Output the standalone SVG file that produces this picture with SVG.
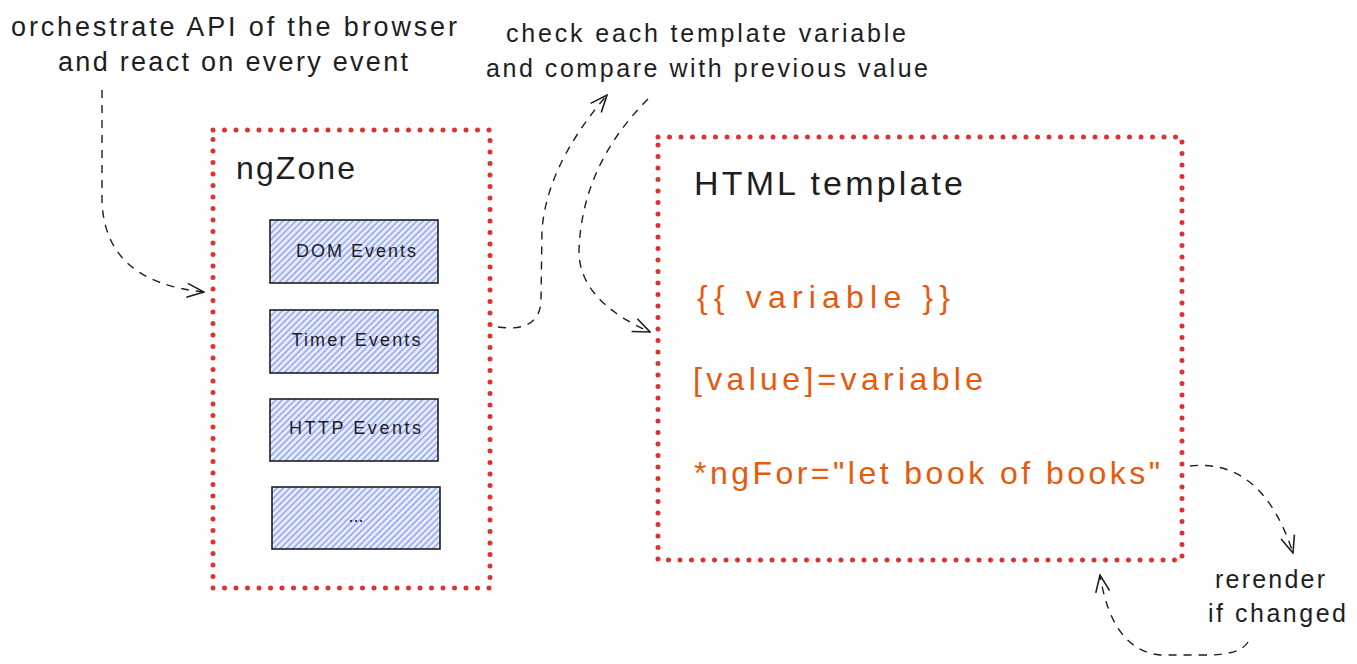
<svg xmlns="http://www.w3.org/2000/svg" width="1357" height="664" viewBox="0 0 1357 664">
<style>
.t{font-family:"Liberation Sans","DejaVu Sans",sans-serif;fill:#1e1e1e}
.o{fill:#e8590c}
.zone{fill:none;stroke:#e03131;stroke-width:5;stroke-linecap:round;stroke-dasharray:0 11.5}
.ev{fill:url(#hatch);stroke:#1e1e1e;stroke-width:1.6}
.c{fill:none;stroke:#1e1e1e;stroke-width:1.4;stroke-dasharray:8 7;marker-end:url(#arr)}
</style>
<defs>
<pattern id="hatch" width="4.5" height="4.5" patternUnits="userSpaceOnUse" patternTransform="rotate(45)">
<rect width="4.5" height="4.5" fill="#e9edfd"/>
<line x1="1" y1="0" x2="1" y2="4.5" stroke="#7f96f2" stroke-width="1.3"/>
</pattern>
<marker id="arr" viewBox="0 0 20 20" refX="19" refY="10" markerWidth="20" markerHeight="20" markerUnits="userSpaceOnUse" orient="auto">
<path d="M2,3 L19,10 L2,17" fill="none" stroke="#1e1e1e" stroke-width="1.6"/>
</marker>
</defs>

<g id="note-browser">
<text class="t" x="234" y="36" font-size="27" text-anchor="middle" textLength="446">orchestrate API of the browser</text>
<text class="t" x="233" y="71" font-size="27" text-anchor="middle" textLength="350">and react on every event</text>
</g>
<g id="note-check">
<text class="t" x="706" y="42" font-size="25" text-anchor="middle" textLength="400">check each template variable</text>
<text class="t" x="707" y="77" font-size="25" text-anchor="middle" textLength="442">and compare with previous value</text>
</g>
<g id="note-rerender">
<text class="t" x="1270" y="588" font-size="25" text-anchor="middle" textLength="110">rerender</text>
<text class="t" x="1277" y="622" font-size="25" text-anchor="middle" textLength="138">if changed</text>
</g>

<g id="ngZone">
<rect class="zone" x="213" y="130" width="277" height="458"/>
<text class="t" x="236" y="179" font-size="32" textLength="119">ngZone</text>
</g>
<g id="dom-events">
<rect class="ev" x="270" y="220" width="168" height="63"/>
<text class="t" x="356" y="257" font-size="18" text-anchor="middle" textLength="120">DOM Events</text>
</g>
<g id="timer-events">
<rect class="ev" x="270" y="310" width="168" height="63"/>
<text class="t" x="356" y="346" font-size="18" text-anchor="middle" textLength="129">Timer Events</text>
</g>
<g id="http-events">
<rect class="ev" x="270" y="399" width="168" height="62"/>
<text class="t" x="355" y="434" font-size="18" text-anchor="middle" textLength="132">HTTP Events</text>
</g>
<g id="more-events">
<rect class="ev" x="272" y="487" width="168" height="62"/>
<text class="t" x="356" y="522" font-size="18" text-anchor="middle">...</text>
</g>

<g id="html-template">
<rect class="zone" x="658" y="137" width="524" height="423"/>
<text class="t" x="694" y="195" font-size="34" textLength="269">HTML template</text>
<text class="t o" x="697" y="308" font-size="32" textLength="253">{{ variable }}</text>
<text class="t o" x="693" y="390" font-size="32" textLength="290">[value]=variable</text>
<text class="t o" x="694" y="484" font-size="32" textLength="466">*ngFor="let book of books"</text>
</g>

<g id="connectors">
<path class="c" d="M102,90 L102,200 Q104,282 204,292"/>
<path class="c" d="M498,327 Q540,333 541,300 L542,230 Q547,165 607,95"/>
<path class="c" d="M648,99 Q582,165 579,250 Q578,300 650,332"/>
<path class="c" d="M1190,466 Q1262,458 1293,553"/>
<path class="c" d="M1248,642 Q1240,656 1200,655 L1160,655 Q1112,650 1100,575"/>
</g>
</svg>
